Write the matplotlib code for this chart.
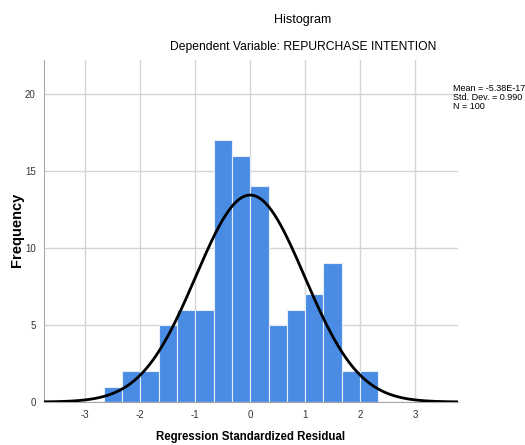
import numpy as np
import matplotlib
matplotlib.use("Agg")
import matplotlib.pyplot as plt

# Data
bin_left_edges = [-8/3, -7/3, -2, -5/3, -4/3, -1, -2/3, -1/3, 0, 1/3, 2/3, 1, 4/3, 5/3, 2]
bin_width = 1/3
frequencies = [1, 2, 2, 5, 6, 6, 17, 16, 14, 5, 6, 7, 9, 2, 2]
mean_val = -5.38e-17
std_val = 0.990
n_val = 100
x_ticks = [-3, -2, -1, 0, 1, 2, 3]
y_ticks = [0, 5, 10, 15, 20]

plt.rcParams['font.family'] = ['Liberation Sans', 'DejaVu Sans']

fig = plt.figure(figsize=(5.25, 4.45), dpi=100)
ax = fig.add_axes([44/525, 1-402/445, (458-44)/525, (402-60)/445])

ax.set_axisbelow(True)
ax.bar(bin_left_edges, frequencies, width=bin_width, align='edge',
       color='#4a8ce4', edgecolor='#e6eefa', linewidth=0.8, zorder=2)

xs = np.linspace(-3.75, 3.78, 400)
pdf = n_val * bin_width * np.exp(-0.5*((xs-mean_val)/std_val)**2) / (std_val*np.sqrt(2*np.pi))
ax.plot(xs, pdf, color='black', linewidth=2.0, zorder=3)

ax.set_xlim(-3.75, 3.78)
ax.set_ylim(0, 22.2)
ax.set_xticks(x_ticks)
ax.set_yticks(y_ticks)
ax.set_xticklabels([str(t) for t in x_ticks], fontsize=7, color='#333333')
ax.set_yticklabels([str(t) for t in y_ticks], fontsize=7, color='#333333')
ax.tick_params(length=0, pad=6)
ax.grid(True, color='#d4d4d4', linewidth=1.0, zorder=0)
for s in ['top', 'right']:
    ax.spines[s].set_visible(False)
ax.spines['left'].set_color('#a8a8a8')
ax.spines['bottom'].set_color('#a8a8a8')

fig.text(17/525, 1-230/445, 'Frequency', rotation=90, ha='center', va='center',
         fontsize=10.5, fontweight='bold')
fig.text(251/525, 1-437/445, 'Regression Standardized Residual', ha='center', va='center',
         fontsize=8.3, fontweight='bold')
fig.text(303/525, 1-20/445, 'Histogram', ha='center', va='center', fontsize=9)
fig.text(303/525, 1-47/445, 'Dependent Variable: REPURCHASE INTENTION', ha='center', va='center', fontsize=8.7)
fig.text(453/525, 1-84/445, 'Mean = -5.38E-17\nStd. Dev. = 0.990\nN = 100', ha='left', va='top',
         fontsize=6.5, linespacing=1.0)

fig.savefig('out.png', dpi=100)
